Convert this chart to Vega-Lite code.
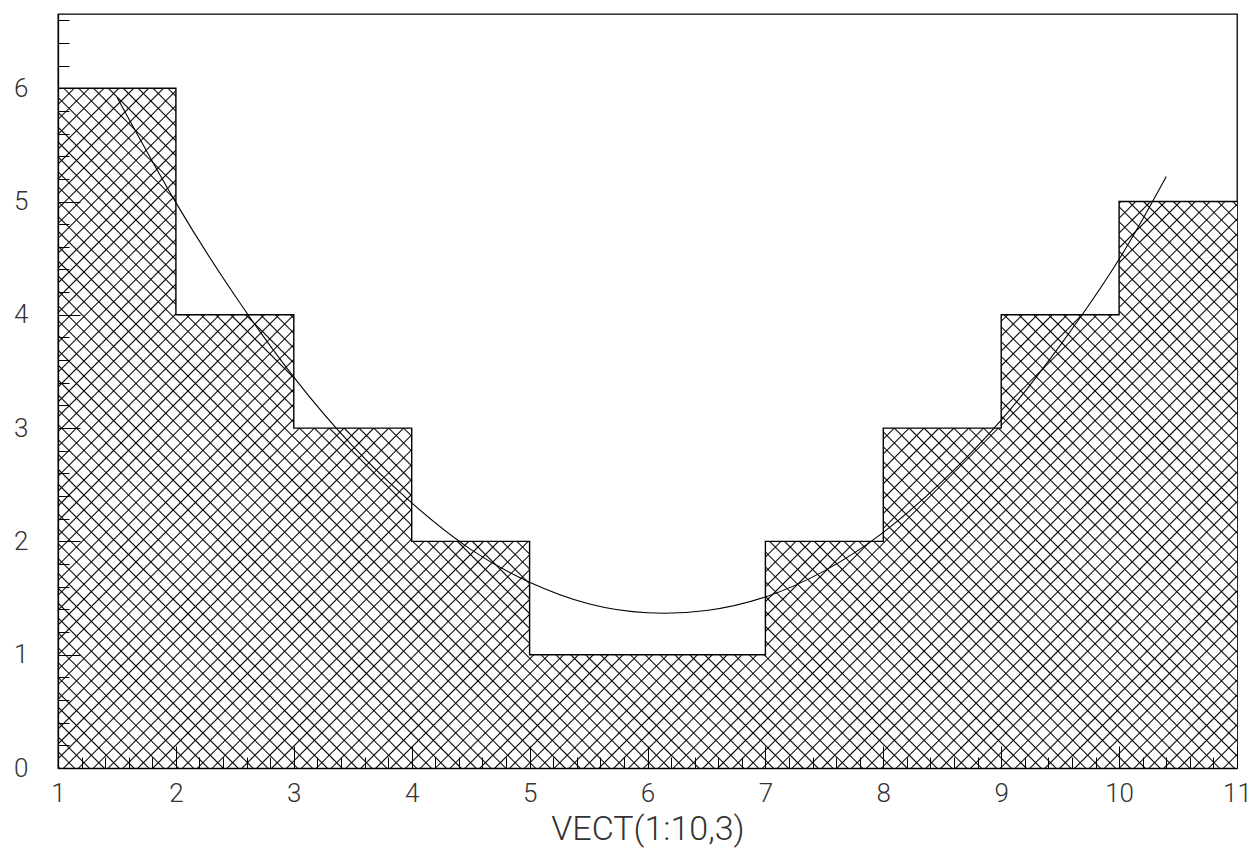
{
 "$schema": "https://vega.github.io/schema/vega-lite/v6.json",
 "width": 1179,
 "height": 754,
 "autosize": "none",
 "padding": {"left": 58, "top": 14, "right": 18, "bottom": 88},
 "background": "#ffffff",
 "config": {
  "view": {"stroke": "#000", "strokeWidth": 1.3},
  "axis": {
   "grid": false,
   "domainColor": "#000",
   "domainWidth": 1.3,
   "tickColor": "#000",
   "tickWidth": 1,
   "labelFont": "Roboto",
   "labelFontWeight": 300,
   "labelFontSize": 26,
   "labelColor": "#333",
   "titleFont": "Roboto",
   "titleFontSize": 34,
   "titleFontWeight": 300,
   "titleColor": "#333",
   "labelOverlap": false,
   "labelFlush": false
  }
 },
 "datasets": {
  "hist": [
   {"lo": 1, "hi": 2, "n": 6},
   {"lo": 2, "hi": 3, "n": 4},
   {"lo": 3, "hi": 4, "n": 3},
   {"lo": 4, "hi": 5, "n": 2},
   {"lo": 5, "hi": 6, "n": 1},
   {"lo": 6, "hi": 7, "n": 1},
   {"lo": 7, "hi": 8, "n": 2},
   {"lo": 8, "hi": 9, "n": 3},
   {"lo": 9, "hi": 10, "n": 4},
   {"lo": 10, "hi": 11, "n": 5}
  ],
  "fit": [
   {"x": 1.5, "y": 5.92},
   {"x": 2, "y": 4.99},
   {"x": 2.5, "y": 4.17},
   {"x": 3, "y": 3.45},
   {"x": 3.5, "y": 2.84},
   {"x": 4, "y": 2.34},
   {"x": 4.5, "y": 1.93},
   {"x": 5, "y": 1.64},
   {"x": 5.5, "y": 1.45},
   {"x": 6, "y": 1.37},
   {"x": 6.5, "y": 1.39},
   {"x": 7, "y": 1.51},
   {"x": 7.5, "y": 1.74},
   {"x": 8, "y": 2.08},
   {"x": 8.5, "y": 2.53},
   {"x": 9, "y": 3.07},
   {"x": 9.5, "y": 3.73},
   {"x": 10, "y": 4.49},
   {"x": 10.4, "y": 5.22}
  ]
 },
 "layer": [
  {
   "data": {"name": "hist"},
   "transform": [{"fold": ["lo", "hi"], "as": ["edge", "x"]}],
   "mark": {
    "type": "area",
    "opacity": 1,
    "fill": {
     "gradient": "linear", "x1": 0, "y1": 0, "x2": 1.1832, "y2": 0.6822,
     "stops": [
{"offset":0,"color":"#fff"},{"offset":0.0008,"color":"#000"},{"offset":0.0016,"color":"#fff"},
{"offset":0.008,"color":"#fff"},{"offset":0.0088,"color":"#000"},{"offset":0.0096,"color":"#fff"},
{"offset":0.016,"color":"#fff"},{"offset":0.0168,"color":"#000"},{"offset":0.0176,"color":"#fff"},
{"offset":0.024,"color":"#fff"},{"offset":0.0248,"color":"#000"},{"offset":0.0256,"color":"#fff"},
{"offset":0.032,"color":"#fff"},{"offset":0.0328,"color":"#000"},{"offset":0.0336,"color":"#fff"},
{"offset":0.04,"color":"#fff"},{"offset":0.0408,"color":"#000"},{"offset":0.0416,"color":"#fff"},
{"offset":0.048,"color":"#fff"},{"offset":0.0488,"color":"#000"},{"offset":0.0496,"color":"#fff"},
{"offset":0.056,"color":"#fff"},{"offset":0.0568,"color":"#000"},{"offset":0.0576,"color":"#fff"},
{"offset":0.064,"color":"#fff"},{"offset":0.0648,"color":"#000"},{"offset":0.0656,"color":"#fff"},
{"offset":0.072,"color":"#fff"},{"offset":0.0728,"color":"#000"},{"offset":0.0736,"color":"#fff"},
{"offset":0.08,"color":"#fff"},{"offset":0.0808,"color":"#000"},{"offset":0.0816,"color":"#fff"},
{"offset":0.088,"color":"#fff"},{"offset":0.0888,"color":"#000"},{"offset":0.0896,"color":"#fff"},
{"offset":0.096,"color":"#fff"},{"offset":0.0968,"color":"#000"},{"offset":0.0976,"color":"#fff"},
{"offset":0.104,"color":"#fff"},{"offset":0.1048,"color":"#000"},{"offset":0.1056,"color":"#fff"},
{"offset":0.112,"color":"#fff"},{"offset":0.1128,"color":"#000"},{"offset":0.1136,"color":"#fff"},
{"offset":0.12,"color":"#fff"},{"offset":0.1208,"color":"#000"},{"offset":0.1216,"color":"#fff"},
{"offset":0.128,"color":"#fff"},{"offset":0.1288,"color":"#000"},{"offset":0.1296,"color":"#fff"},
{"offset":0.136,"color":"#fff"},{"offset":0.1368,"color":"#000"},{"offset":0.1376,"color":"#fff"},
{"offset":0.144,"color":"#fff"},{"offset":0.1448,"color":"#000"},{"offset":0.1456,"color":"#fff"},
{"offset":0.152,"color":"#fff"},{"offset":0.1528,"color":"#000"},{"offset":0.1536,"color":"#fff"},
{"offset":0.16,"color":"#fff"},{"offset":0.1608,"color":"#000"},{"offset":0.1616,"color":"#fff"},
{"offset":0.168,"color":"#fff"},{"offset":0.1688,"color":"#000"},{"offset":0.1696,"color":"#fff"},
{"offset":0.176,"color":"#fff"},{"offset":0.1768,"color":"#000"},{"offset":0.1776,"color":"#fff"},
{"offset":0.184,"color":"#fff"},{"offset":0.1848,"color":"#000"},{"offset":0.1856,"color":"#fff"},
{"offset":0.192,"color":"#fff"},{"offset":0.1928,"color":"#000"},{"offset":0.1936,"color":"#fff"},
{"offset":0.2,"color":"#fff"},{"offset":0.2008,"color":"#000"},{"offset":0.2016,"color":"#fff"},
{"offset":0.208,"color":"#fff"},{"offset":0.2088,"color":"#000"},{"offset":0.2096,"color":"#fff"},
{"offset":0.216,"color":"#fff"},{"offset":0.2168,"color":"#000"},{"offset":0.2176,"color":"#fff"},
{"offset":0.224,"color":"#fff"},{"offset":0.2248,"color":"#000"},{"offset":0.2256,"color":"#fff"},
{"offset":0.232,"color":"#fff"},{"offset":0.2328,"color":"#000"},{"offset":0.2336,"color":"#fff"},
{"offset":0.24,"color":"#fff"},{"offset":0.2408,"color":"#000"},{"offset":0.2416,"color":"#fff"},
{"offset":0.248,"color":"#fff"},{"offset":0.2488,"color":"#000"},{"offset":0.2496,"color":"#fff"},
{"offset":0.256,"color":"#fff"},{"offset":0.2568,"color":"#000"},{"offset":0.2576,"color":"#fff"},
{"offset":0.264,"color":"#fff"},{"offset":0.2648,"color":"#000"},{"offset":0.2656,"color":"#fff"},
{"offset":0.272,"color":"#fff"},{"offset":0.2728,"color":"#000"},{"offset":0.2736,"color":"#fff"},
{"offset":0.28,"color":"#fff"},{"offset":0.2808,"color":"#000"},{"offset":0.2816,"color":"#fff"},
{"offset":0.288,"color":"#fff"},{"offset":0.2888,"color":"#000"},{"offset":0.2896,"color":"#fff"},
{"offset":0.296,"color":"#fff"},{"offset":0.2968,"color":"#000"},{"offset":0.2976,"color":"#fff"},
{"offset":0.304,"color":"#fff"},{"offset":0.3048,"color":"#000"},{"offset":0.3056,"color":"#fff"},
{"offset":0.312,"color":"#fff"},{"offset":0.3128,"color":"#000"},{"offset":0.3136,"color":"#fff"},
{"offset":0.32,"color":"#fff"},{"offset":0.3208,"color":"#000"},{"offset":0.3216,"color":"#fff"},
{"offset":0.328,"color":"#fff"},{"offset":0.3288,"color":"#000"},{"offset":0.3296,"color":"#fff"},
{"offset":0.336,"color":"#fff"},{"offset":0.3368,"color":"#000"},{"offset":0.3376,"color":"#fff"},
{"offset":0.344,"color":"#fff"},{"offset":0.3448,"color":"#000"},{"offset":0.3456,"color":"#fff"},
{"offset":0.352,"color":"#fff"},{"offset":0.3528,"color":"#000"},{"offset":0.3536,"color":"#fff"},
{"offset":0.36,"color":"#fff"},{"offset":0.3608,"color":"#000"},{"offset":0.3616,"color":"#fff"},
{"offset":0.368,"color":"#fff"},{"offset":0.3688,"color":"#000"},{"offset":0.3696,"color":"#fff"},
{"offset":0.376,"color":"#fff"},{"offset":0.3768,"color":"#000"},{"offset":0.3776,"color":"#fff"},
{"offset":0.384,"color":"#fff"},{"offset":0.3848,"color":"#000"},{"offset":0.3856,"color":"#fff"},
{"offset":0.392,"color":"#fff"},{"offset":0.3928,"color":"#000"},{"offset":0.3936,"color":"#fff"},
{"offset":0.4,"color":"#fff"},{"offset":0.4008,"color":"#000"},{"offset":0.4016,"color":"#fff"},
{"offset":0.408,"color":"#fff"},{"offset":0.4088,"color":"#000"},{"offset":0.4096,"color":"#fff"},
{"offset":0.416,"color":"#fff"},{"offset":0.4168,"color":"#000"},{"offset":0.4176,"color":"#fff"},
{"offset":0.424,"color":"#fff"},{"offset":0.4248,"color":"#000"},{"offset":0.4256,"color":"#fff"},
{"offset":0.432,"color":"#fff"},{"offset":0.4328,"color":"#000"},{"offset":0.4336,"color":"#fff"},
{"offset":0.44,"color":"#fff"},{"offset":0.4408,"color":"#000"},{"offset":0.4416,"color":"#fff"},
{"offset":0.448,"color":"#fff"},{"offset":0.4488,"color":"#000"},{"offset":0.4496,"color":"#fff"},
{"offset":0.456,"color":"#fff"},{"offset":0.4568,"color":"#000"},{"offset":0.4576,"color":"#fff"},
{"offset":0.464,"color":"#fff"},{"offset":0.4648,"color":"#000"},{"offset":0.4656,"color":"#fff"},
{"offset":0.472,"color":"#fff"},{"offset":0.4728,"color":"#000"},{"offset":0.4736,"color":"#fff"},
{"offset":0.48,"color":"#fff"},{"offset":0.4808,"color":"#000"},{"offset":0.4816,"color":"#fff"},
{"offset":0.488,"color":"#fff"},{"offset":0.4888,"color":"#000"},{"offset":0.4896,"color":"#fff"},
{"offset":0.496,"color":"#fff"},{"offset":0.4968,"color":"#000"},{"offset":0.4976,"color":"#fff"},
{"offset":0.504,"color":"#fff"},{"offset":0.5048,"color":"#000"},{"offset":0.5056,"color":"#fff"},
{"offset":0.512,"color":"#fff"},{"offset":0.5128,"color":"#000"},{"offset":0.5136,"color":"#fff"},
{"offset":0.52,"color":"#fff"},{"offset":0.5208,"color":"#000"},{"offset":0.5216,"color":"#fff"},
{"offset":0.528,"color":"#fff"},{"offset":0.5288,"color":"#000"},{"offset":0.5296,"color":"#fff"},
{"offset":0.536,"color":"#fff"},{"offset":0.5368,"color":"#000"},{"offset":0.5376,"color":"#fff"},
{"offset":0.544,"color":"#fff"},{"offset":0.5448,"color":"#000"},{"offset":0.5456,"color":"#fff"},
{"offset":0.552,"color":"#fff"},{"offset":0.5528,"color":"#000"},{"offset":0.5536,"color":"#fff"},
{"offset":0.56,"color":"#fff"},{"offset":0.5608,"color":"#000"},{"offset":0.5616,"color":"#fff"},
{"offset":0.568,"color":"#fff"},{"offset":0.5688,"color":"#000"},{"offset":0.5696,"color":"#fff"},
{"offset":0.576,"color":"#fff"},{"offset":0.5768,"color":"#000"},{"offset":0.5776,"color":"#fff"},
{"offset":0.584,"color":"#fff"},{"offset":0.5848,"color":"#000"},{"offset":0.5856,"color":"#fff"},
{"offset":0.592,"color":"#fff"},{"offset":0.5928,"color":"#000"},{"offset":0.5936,"color":"#fff"},
{"offset":0.6,"color":"#fff"},{"offset":0.6008,"color":"#000"},{"offset":0.6016,"color":"#fff"},
{"offset":0.608,"color":"#fff"},{"offset":0.6088,"color":"#000"},{"offset":0.6096,"color":"#fff"},
{"offset":0.616,"color":"#fff"},{"offset":0.6168,"color":"#000"},{"offset":0.6176,"color":"#fff"},
{"offset":0.624,"color":"#fff"},{"offset":0.6248,"color":"#000"},{"offset":0.6256,"color":"#fff"},
{"offset":0.632,"color":"#fff"},{"offset":0.6328,"color":"#000"},{"offset":0.6336,"color":"#fff"},
{"offset":0.64,"color":"#fff"},{"offset":0.6408,"color":"#000"},{"offset":0.6416,"color":"#fff"},
{"offset":0.648,"color":"#fff"},{"offset":0.6488,"color":"#000"},{"offset":0.6496,"color":"#fff"},
{"offset":0.656,"color":"#fff"},{"offset":0.6568,"color":"#000"},{"offset":0.6576,"color":"#fff"},
{"offset":0.664,"color":"#fff"},{"offset":0.6648,"color":"#000"},{"offset":0.6656,"color":"#fff"},
{"offset":0.672,"color":"#fff"},{"offset":0.6728,"color":"#000"},{"offset":0.6736,"color":"#fff"},
{"offset":0.68,"color":"#fff"},{"offset":0.6808,"color":"#000"},{"offset":0.6816,"color":"#fff"},
{"offset":0.688,"color":"#fff"},{"offset":0.6888,"color":"#000"},{"offset":0.6896,"color":"#fff"},
{"offset":0.696,"color":"#fff"},{"offset":0.6968,"color":"#000"},{"offset":0.6976,"color":"#fff"},
{"offset":0.704,"color":"#fff"},{"offset":0.7048,"color":"#000"},{"offset":0.7056,"color":"#fff"},
{"offset":0.712,"color":"#fff"},{"offset":0.7128,"color":"#000"},{"offset":0.7136,"color":"#fff"},
{"offset":0.72,"color":"#fff"},{"offset":0.7208,"color":"#000"},{"offset":0.7216,"color":"#fff"},
{"offset":0.728,"color":"#fff"},{"offset":0.7288,"color":"#000"},{"offset":0.7296,"color":"#fff"},
{"offset":0.736,"color":"#fff"},{"offset":0.7368,"color":"#000"},{"offset":0.7376,"color":"#fff"},
{"offset":0.744,"color":"#fff"},{"offset":0.7448,"color":"#000"},{"offset":0.7456,"color":"#fff"},
{"offset":0.752,"color":"#fff"},{"offset":0.7528,"color":"#000"},{"offset":0.7536,"color":"#fff"},
{"offset":0.76,"color":"#fff"},{"offset":0.7608,"color":"#000"},{"offset":0.7616,"color":"#fff"},
{"offset":0.768,"color":"#fff"},{"offset":0.7688,"color":"#000"},{"offset":0.7696,"color":"#fff"},
{"offset":0.776,"color":"#fff"},{"offset":0.7768,"color":"#000"},{"offset":0.7776,"color":"#fff"},
{"offset":0.784,"color":"#fff"},{"offset":0.7848,"color":"#000"},{"offset":0.7856,"color":"#fff"},
{"offset":0.792,"color":"#fff"},{"offset":0.7928,"color":"#000"},{"offset":0.7936,"color":"#fff"},
{"offset":0.8,"color":"#fff"},{"offset":0.8008,"color":"#000"},{"offset":0.8016,"color":"#fff"},
{"offset":0.808,"color":"#fff"},{"offset":0.8088,"color":"#000"},{"offset":0.8096,"color":"#fff"},
{"offset":0.816,"color":"#fff"},{"offset":0.8168,"color":"#000"},{"offset":0.8176,"color":"#fff"},
{"offset":0.824,"color":"#fff"},{"offset":0.8248,"color":"#000"},{"offset":0.8256,"color":"#fff"},
{"offset":0.832,"color":"#fff"},{"offset":0.8328,"color":"#000"},{"offset":0.8336,"color":"#fff"},
{"offset":0.84,"color":"#fff"},{"offset":0.8408,"color":"#000"},{"offset":0.8416,"color":"#fff"},
{"offset":0.848,"color":"#fff"},{"offset":0.8488,"color":"#000"},{"offset":0.8496,"color":"#fff"},
{"offset":0.856,"color":"#fff"},{"offset":0.8568,"color":"#000"},{"offset":0.8576,"color":"#fff"},
{"offset":0.864,"color":"#fff"},{"offset":0.8648,"color":"#000"},{"offset":0.8656,"color":"#fff"},
{"offset":0.872,"color":"#fff"},{"offset":0.8728,"color":"#000"},{"offset":0.8736,"color":"#fff"},
{"offset":0.88,"color":"#fff"},{"offset":0.8808,"color":"#000"},{"offset":0.8816,"color":"#fff"},
{"offset":0.888,"color":"#fff"},{"offset":0.8888,"color":"#000"},{"offset":0.8896,"color":"#fff"},
{"offset":0.896,"color":"#fff"},{"offset":0.8968,"color":"#000"},{"offset":0.8976,"color":"#fff"},
{"offset":0.904,"color":"#fff"},{"offset":0.9048,"color":"#000"},{"offset":0.9056,"color":"#fff"},
{"offset":0.912,"color":"#fff"},{"offset":0.9128,"color":"#000"},{"offset":0.9136,"color":"#fff"},
{"offset":0.92,"color":"#fff"},{"offset":0.9208,"color":"#000"},{"offset":0.9216,"color":"#fff"},
{"offset":0.928,"color":"#fff"},{"offset":0.9288,"color":"#000"},{"offset":0.9296,"color":"#fff"},
{"offset":0.936,"color":"#fff"},{"offset":0.9368,"color":"#000"},{"offset":0.9376,"color":"#fff"},
{"offset":0.944,"color":"#fff"},{"offset":0.9448,"color":"#000"},{"offset":0.9456,"color":"#fff"},
{"offset":0.952,"color":"#fff"},{"offset":0.9528,"color":"#000"},{"offset":0.9536,"color":"#fff"},
{"offset":0.96,"color":"#fff"},{"offset":0.9608,"color":"#000"},{"offset":0.9616,"color":"#fff"},
{"offset":0.968,"color":"#fff"},{"offset":0.9688,"color":"#000"},{"offset":0.9696,"color":"#fff"},
{"offset":0.976,"color":"#fff"},{"offset":0.9768,"color":"#000"},{"offset":0.9776,"color":"#fff"},
{"offset":0.984,"color":"#fff"},{"offset":0.9848,"color":"#000"},{"offset":0.9856,"color":"#fff"},
{"offset":0.992,"color":"#fff"},{"offset":0.9928,"color":"#000"},{"offset":0.9936,"color":"#fff"}
     ]
    }
   },
   "encoding": {
    "x": {
     "field": "x", "type": "quantitative",
     "scale": {"domain": [1, 11], "nice": false, "zero": false},
     "axis": {
      "values": [1,1.2,1.4,1.6,1.8,2,2.2,2.4,2.6,2.8,3,3.2,3.4,3.6,3.8,4,4.2,4.4,4.6,4.8,5,5.2,5.4,5.6,5.8,6,6.2,6.4,6.6,6.8,7,7.2,7.4,7.6,7.8,8,8.2,8.4,8.6,8.8,9,9.2,9.4,9.6,9.8,10,10.2,10.4,10.6,10.8,11],
      "tickCount": 500,
      "zindex": 2,
      "tickSize": {"condition": {"test": "datum.value == round(datum.value)", "value": -22}, "value": -11},
      "labelExpr": "datum.value == round(datum.value) ? format(datum.value, 'd') : ''",
      "labelOverlap": false,
      "labelPadding": 34,
      "title": "VECT(1:10,3)",
      "titleFont": "Roboto",
      "titleFontWeight": 300,
      "titleFontSize": 34,
      "titlePadding": -5
     }
    },
    "y": {
     "field": "n", "type": "quantitative", "stack": null,
     "scale": {"domain": [0, 6.655], "nice": false},
     "axis": {
      "values": [0,0.2,0.4,0.6,0.8,1,1.2,1.4,1.6,1.8,2,2.2,2.4,2.6,2.8,3,3.2,3.4,3.6,3.8,4,4.2,4.4,4.6,4.8,5,5.2,5.4,5.6,5.8,6,6.2,6.4,6.6],
      "tickCount": 500,
      "zindex": 2,
      "tickSize": {"condition": {"test": "datum.value == round(datum.value)", "value": -22}, "value": -11},
      "labelExpr": "datum.value == round(datum.value) ? format(datum.value, 'd') : ''",
      "labelOverlap": false,
      "labelPadding": 52,
      "title": null
     }
    },
    "order": [{"field": "lo", "type": "quantitative"}, {"field": "x", "type": "quantitative"}]
   }
  },
  {
   "data": {"name": "hist"},
   "transform": [{"fold": ["lo", "hi"], "as": ["edge", "x"]}],
   "mark": {
    "type": "area",
    "opacity": 1,
    "fill": {
     "gradient": "linear", "x1": 0, "y1": 1, "x2": 1.1832, "y2": 0.3178,
     "stops": [
{"offset":0,"color":"transparent"},{"offset":0.0008,"color":"#000"},{"offset":0.0016,"color":"transparent"},
{"offset":0.008,"color":"transparent"},{"offset":0.0088,"color":"#000"},{"offset":0.0096,"color":"transparent"},
{"offset":0.016,"color":"transparent"},{"offset":0.0168,"color":"#000"},{"offset":0.0176,"color":"transparent"},
{"offset":0.024,"color":"transparent"},{"offset":0.0248,"color":"#000"},{"offset":0.0256,"color":"transparent"},
{"offset":0.032,"color":"transparent"},{"offset":0.0328,"color":"#000"},{"offset":0.0336,"color":"transparent"},
{"offset":0.04,"color":"transparent"},{"offset":0.0408,"color":"#000"},{"offset":0.0416,"color":"transparent"},
{"offset":0.048,"color":"transparent"},{"offset":0.0488,"color":"#000"},{"offset":0.0496,"color":"transparent"},
{"offset":0.056,"color":"transparent"},{"offset":0.0568,"color":"#000"},{"offset":0.0576,"color":"transparent"},
{"offset":0.064,"color":"transparent"},{"offset":0.0648,"color":"#000"},{"offset":0.0656,"color":"transparent"},
{"offset":0.072,"color":"transparent"},{"offset":0.0728,"color":"#000"},{"offset":0.0736,"color":"transparent"},
{"offset":0.08,"color":"transparent"},{"offset":0.0808,"color":"#000"},{"offset":0.0816,"color":"transparent"},
{"offset":0.088,"color":"transparent"},{"offset":0.0888,"color":"#000"},{"offset":0.0896,"color":"transparent"},
{"offset":0.096,"color":"transparent"},{"offset":0.0968,"color":"#000"},{"offset":0.0976,"color":"transparent"},
{"offset":0.104,"color":"transparent"},{"offset":0.1048,"color":"#000"},{"offset":0.1056,"color":"transparent"},
{"offset":0.112,"color":"transparent"},{"offset":0.1128,"color":"#000"},{"offset":0.1136,"color":"transparent"},
{"offset":0.12,"color":"transparent"},{"offset":0.1208,"color":"#000"},{"offset":0.1216,"color":"transparent"},
{"offset":0.128,"color":"transparent"},{"offset":0.1288,"color":"#000"},{"offset":0.1296,"color":"transparent"},
{"offset":0.136,"color":"transparent"},{"offset":0.1368,"color":"#000"},{"offset":0.1376,"color":"transparent"},
{"offset":0.144,"color":"transparent"},{"offset":0.1448,"color":"#000"},{"offset":0.1456,"color":"transparent"},
{"offset":0.152,"color":"transparent"},{"offset":0.1528,"color":"#000"},{"offset":0.1536,"color":"transparent"},
{"offset":0.16,"color":"transparent"},{"offset":0.1608,"color":"#000"},{"offset":0.1616,"color":"transparent"},
{"offset":0.168,"color":"transparent"},{"offset":0.1688,"color":"#000"},{"offset":0.1696,"color":"transparent"},
{"offset":0.176,"color":"transparent"},{"offset":0.1768,"color":"#000"},{"offset":0.1776,"color":"transparent"},
{"offset":0.184,"color":"transparent"},{"offset":0.1848,"color":"#000"},{"offset":0.1856,"color":"transparent"},
{"offset":0.192,"color":"transparent"},{"offset":0.1928,"color":"#000"},{"offset":0.1936,"color":"transparent"},
{"offset":0.2,"color":"transparent"},{"offset":0.2008,"color":"#000"},{"offset":0.2016,"color":"transparent"},
{"offset":0.208,"color":"transparent"},{"offset":0.2088,"color":"#000"},{"offset":0.2096,"color":"transparent"},
{"offset":0.216,"color":"transparent"},{"offset":0.2168,"color":"#000"},{"offset":0.2176,"color":"transparent"},
{"offset":0.224,"color":"transparent"},{"offset":0.2248,"color":"#000"},{"offset":0.2256,"color":"transparent"},
{"offset":0.232,"color":"transparent"},{"offset":0.2328,"color":"#000"},{"offset":0.2336,"color":"transparent"},
{"offset":0.24,"color":"transparent"},{"offset":0.2408,"color":"#000"},{"offset":0.2416,"color":"transparent"},
{"offset":0.248,"color":"transparent"},{"offset":0.2488,"color":"#000"},{"offset":0.2496,"color":"transparent"},
{"offset":0.256,"color":"transparent"},{"offset":0.2568,"color":"#000"},{"offset":0.2576,"color":"transparent"},
{"offset":0.264,"color":"transparent"},{"offset":0.2648,"color":"#000"},{"offset":0.2656,"color":"transparent"},
{"offset":0.272,"color":"transparent"},{"offset":0.2728,"color":"#000"},{"offset":0.2736,"color":"transparent"},
{"offset":0.28,"color":"transparent"},{"offset":0.2808,"color":"#000"},{"offset":0.2816,"color":"transparent"},
{"offset":0.288,"color":"transparent"},{"offset":0.2888,"color":"#000"},{"offset":0.2896,"color":"transparent"},
{"offset":0.296,"color":"transparent"},{"offset":0.2968,"color":"#000"},{"offset":0.2976,"color":"transparent"},
{"offset":0.304,"color":"transparent"},{"offset":0.3048,"color":"#000"},{"offset":0.3056,"color":"transparent"},
{"offset":0.312,"color":"transparent"},{"offset":0.3128,"color":"#000"},{"offset":0.3136,"color":"transparent"},
{"offset":0.32,"color":"transparent"},{"offset":0.3208,"color":"#000"},{"offset":0.3216,"color":"transparent"},
{"offset":0.328,"color":"transparent"},{"offset":0.3288,"color":"#000"},{"offset":0.3296,"color":"transparent"},
{"offset":0.336,"color":"transparent"},{"offset":0.3368,"color":"#000"},{"offset":0.3376,"color":"transparent"},
{"offset":0.344,"color":"transparent"},{"offset":0.3448,"color":"#000"},{"offset":0.3456,"color":"transparent"},
{"offset":0.352,"color":"transparent"},{"offset":0.3528,"color":"#000"},{"offset":0.3536,"color":"transparent"},
{"offset":0.36,"color":"transparent"},{"offset":0.3608,"color":"#000"},{"offset":0.3616,"color":"transparent"},
{"offset":0.368,"color":"transparent"},{"offset":0.3688,"color":"#000"},{"offset":0.3696,"color":"transparent"},
{"offset":0.376,"color":"transparent"},{"offset":0.3768,"color":"#000"},{"offset":0.3776,"color":"transparent"},
{"offset":0.384,"color":"transparent"},{"offset":0.3848,"color":"#000"},{"offset":0.3856,"color":"transparent"},
{"offset":0.392,"color":"transparent"},{"offset":0.3928,"color":"#000"},{"offset":0.3936,"color":"transparent"},
{"offset":0.4,"color":"transparent"},{"offset":0.4008,"color":"#000"},{"offset":0.4016,"color":"transparent"},
{"offset":0.408,"color":"transparent"},{"offset":0.4088,"color":"#000"},{"offset":0.4096,"color":"transparent"},
{"offset":0.416,"color":"transparent"},{"offset":0.4168,"color":"#000"},{"offset":0.4176,"color":"transparent"},
{"offset":0.424,"color":"transparent"},{"offset":0.4248,"color":"#000"},{"offset":0.4256,"color":"transparent"},
{"offset":0.432,"color":"transparent"},{"offset":0.4328,"color":"#000"},{"offset":0.4336,"color":"transparent"},
{"offset":0.44,"color":"transparent"},{"offset":0.4408,"color":"#000"},{"offset":0.4416,"color":"transparent"},
{"offset":0.448,"color":"transparent"},{"offset":0.4488,"color":"#000"},{"offset":0.4496,"color":"transparent"},
{"offset":0.456,"color":"transparent"},{"offset":0.4568,"color":"#000"},{"offset":0.4576,"color":"transparent"},
{"offset":0.464,"color":"transparent"},{"offset":0.4648,"color":"#000"},{"offset":0.4656,"color":"transparent"},
{"offset":0.472,"color":"transparent"},{"offset":0.4728,"color":"#000"},{"offset":0.4736,"color":"transparent"},
{"offset":0.48,"color":"transparent"},{"offset":0.4808,"color":"#000"},{"offset":0.4816,"color":"transparent"},
{"offset":0.488,"color":"transparent"},{"offset":0.4888,"color":"#000"},{"offset":0.4896,"color":"transparent"},
{"offset":0.496,"color":"transparent"},{"offset":0.4968,"color":"#000"},{"offset":0.4976,"color":"transparent"},
{"offset":0.504,"color":"transparent"},{"offset":0.5048,"color":"#000"},{"offset":0.5056,"color":"transparent"},
{"offset":0.512,"color":"transparent"},{"offset":0.5128,"color":"#000"},{"offset":0.5136,"color":"transparent"},
{"offset":0.52,"color":"transparent"},{"offset":0.5208,"color":"#000"},{"offset":0.5216,"color":"transparent"},
{"offset":0.528,"color":"transparent"},{"offset":0.5288,"color":"#000"},{"offset":0.5296,"color":"transparent"},
{"offset":0.536,"color":"transparent"},{"offset":0.5368,"color":"#000"},{"offset":0.5376,"color":"transparent"},
{"offset":0.544,"color":"transparent"},{"offset":0.5448,"color":"#000"},{"offset":0.5456,"color":"transparent"},
{"offset":0.552,"color":"transparent"},{"offset":0.5528,"color":"#000"},{"offset":0.5536,"color":"transparent"},
{"offset":0.56,"color":"transparent"},{"offset":0.5608,"color":"#000"},{"offset":0.5616,"color":"transparent"},
{"offset":0.568,"color":"transparent"},{"offset":0.5688,"color":"#000"},{"offset":0.5696,"color":"transparent"},
{"offset":0.576,"color":"transparent"},{"offset":0.5768,"color":"#000"},{"offset":0.5776,"color":"transparent"},
{"offset":0.584,"color":"transparent"},{"offset":0.5848,"color":"#000"},{"offset":0.5856,"color":"transparent"},
{"offset":0.592,"color":"transparent"},{"offset":0.5928,"color":"#000"},{"offset":0.5936,"color":"transparent"},
{"offset":0.6,"color":"transparent"},{"offset":0.6008,"color":"#000"},{"offset":0.6016,"color":"transparent"},
{"offset":0.608,"color":"transparent"},{"offset":0.6088,"color":"#000"},{"offset":0.6096,"color":"transparent"},
{"offset":0.616,"color":"transparent"},{"offset":0.6168,"color":"#000"},{"offset":0.6176,"color":"transparent"},
{"offset":0.624,"color":"transparent"},{"offset":0.6248,"color":"#000"},{"offset":0.6256,"color":"transparent"},
{"offset":0.632,"color":"transparent"},{"offset":0.6328,"color":"#000"},{"offset":0.6336,"color":"transparent"},
{"offset":0.64,"color":"transparent"},{"offset":0.6408,"color":"#000"},{"offset":0.6416,"color":"transparent"},
{"offset":0.648,"color":"transparent"},{"offset":0.6488,"color":"#000"},{"offset":0.6496,"color":"transparent"},
{"offset":0.656,"color":"transparent"},{"offset":0.6568,"color":"#000"},{"offset":0.6576,"color":"transparent"},
{"offset":0.664,"color":"transparent"},{"offset":0.6648,"color":"#000"},{"offset":0.6656,"color":"transparent"},
{"offset":0.672,"color":"transparent"},{"offset":0.6728,"color":"#000"},{"offset":0.6736,"color":"transparent"},
{"offset":0.68,"color":"transparent"},{"offset":0.6808,"color":"#000"},{"offset":0.6816,"color":"transparent"},
{"offset":0.688,"color":"transparent"},{"offset":0.6888,"color":"#000"},{"offset":0.6896,"color":"transparent"},
{"offset":0.696,"color":"transparent"},{"offset":0.6968,"color":"#000"},{"offset":0.6976,"color":"transparent"},
{"offset":0.704,"color":"transparent"},{"offset":0.7048,"color":"#000"},{"offset":0.7056,"color":"transparent"},
{"offset":0.712,"color":"transparent"},{"offset":0.7128,"color":"#000"},{"offset":0.7136,"color":"transparent"},
{"offset":0.72,"color":"transparent"},{"offset":0.7208,"color":"#000"},{"offset":0.7216,"color":"transparent"},
{"offset":0.728,"color":"transparent"},{"offset":0.7288,"color":"#000"},{"offset":0.7296,"color":"transparent"},
{"offset":0.736,"color":"transparent"},{"offset":0.7368,"color":"#000"},{"offset":0.7376,"color":"transparent"},
{"offset":0.744,"color":"transparent"},{"offset":0.7448,"color":"#000"},{"offset":0.7456,"color":"transparent"},
{"offset":0.752,"color":"transparent"},{"offset":0.7528,"color":"#000"},{"offset":0.7536,"color":"transparent"},
{"offset":0.76,"color":"transparent"},{"offset":0.7608,"color":"#000"},{"offset":0.7616,"color":"transparent"},
{"offset":0.768,"color":"transparent"},{"offset":0.7688,"color":"#000"},{"offset":0.7696,"color":"transparent"},
{"offset":0.776,"color":"transparent"},{"offset":0.7768,"color":"#000"},{"offset":0.7776,"color":"transparent"},
{"offset":0.784,"color":"transparent"},{"offset":0.7848,"color":"#000"},{"offset":0.7856,"color":"transparent"},
{"offset":0.792,"color":"transparent"},{"offset":0.7928,"color":"#000"},{"offset":0.7936,"color":"transparent"},
{"offset":0.8,"color":"transparent"},{"offset":0.8008,"color":"#000"},{"offset":0.8016,"color":"transparent"},
{"offset":0.808,"color":"transparent"},{"offset":0.8088,"color":"#000"},{"offset":0.8096,"color":"transparent"},
{"offset":0.816,"color":"transparent"},{"offset":0.8168,"color":"#000"},{"offset":0.8176,"color":"transparent"},
{"offset":0.824,"color":"transparent"},{"offset":0.8248,"color":"#000"},{"offset":0.8256,"color":"transparent"},
{"offset":0.832,"color":"transparent"},{"offset":0.8328,"color":"#000"},{"offset":0.8336,"color":"transparent"},
{"offset":0.84,"color":"transparent"},{"offset":0.8408,"color":"#000"},{"offset":0.8416,"color":"transparent"},
{"offset":0.848,"color":"transparent"},{"offset":0.8488,"color":"#000"},{"offset":0.8496,"color":"transparent"},
{"offset":0.856,"color":"transparent"},{"offset":0.8568,"color":"#000"},{"offset":0.8576,"color":"transparent"},
{"offset":0.864,"color":"transparent"},{"offset":0.8648,"color":"#000"},{"offset":0.8656,"color":"transparent"},
{"offset":0.872,"color":"transparent"},{"offset":0.8728,"color":"#000"},{"offset":0.8736,"color":"transparent"},
{"offset":0.88,"color":"transparent"},{"offset":0.8808,"color":"#000"},{"offset":0.8816,"color":"transparent"},
{"offset":0.888,"color":"transparent"},{"offset":0.8888,"color":"#000"},{"offset":0.8896,"color":"transparent"},
{"offset":0.896,"color":"transparent"},{"offset":0.8968,"color":"#000"},{"offset":0.8976,"color":"transparent"},
{"offset":0.904,"color":"transparent"},{"offset":0.9048,"color":"#000"},{"offset":0.9056,"color":"transparent"},
{"offset":0.912,"color":"transparent"},{"offset":0.9128,"color":"#000"},{"offset":0.9136,"color":"transparent"},
{"offset":0.92,"color":"transparent"},{"offset":0.9208,"color":"#000"},{"offset":0.9216,"color":"transparent"},
{"offset":0.928,"color":"transparent"},{"offset":0.9288,"color":"#000"},{"offset":0.9296,"color":"transparent"},
{"offset":0.936,"color":"transparent"},{"offset":0.9368,"color":"#000"},{"offset":0.9376,"color":"transparent"},
{"offset":0.944,"color":"transparent"},{"offset":0.9448,"color":"#000"},{"offset":0.9456,"color":"transparent"},
{"offset":0.952,"color":"transparent"},{"offset":0.9528,"color":"#000"},{"offset":0.9536,"color":"transparent"},
{"offset":0.96,"color":"transparent"},{"offset":0.9608,"color":"#000"},{"offset":0.9616,"color":"transparent"},
{"offset":0.968,"color":"transparent"},{"offset":0.9688,"color":"#000"},{"offset":0.9696,"color":"transparent"},
{"offset":0.976,"color":"transparent"},{"offset":0.9768,"color":"#000"},{"offset":0.9776,"color":"transparent"},
{"offset":0.984,"color":"transparent"},{"offset":0.9848,"color":"#000"},{"offset":0.9856,"color":"transparent"},
{"offset":0.992,"color":"transparent"},{"offset":0.9928,"color":"#000"},{"offset":0.9936,"color":"transparent"}
     ]
    }
   },
   "encoding": {
    "x": {"field": "x", "type": "quantitative", "scale": {"domain": [1, 11], "nice": false, "zero": false}},
    "y": {"field": "n", "type": "quantitative", "stack": null, "scale": {"domain": [0, 6.655], "nice": false}},
    "order": [{"field": "lo", "type": "quantitative"}, {"field": "x", "type": "quantitative"}]
   }
  },
  {
   "data": {"name": "hist"},
   "transform": [{"fold": ["lo", "hi"], "as": ["edge", "x"]}],
   "mark": {"type": "line", "stroke": "#000", "strokeWidth": 1.4},
   "encoding": {
    "x": {"field": "x", "type": "quantitative", "scale": {"domain": [1, 11], "nice": false, "zero": false}},
    "y": {"field": "n", "type": "quantitative", "stack": null, "scale": {"domain": [0, 6.655], "nice": false}},
    "order": [{"field": "lo", "type": "quantitative"}, {"field": "x", "type": "quantitative"}]
   }
  },
  {
   "data": {"name": "fit"},
   "mark": {"type": "line", "interpolate": "natural", "stroke": "#000", "strokeWidth": 1.1},
   "encoding": {
    "x": {"field": "x", "type": "quantitative", "scale": {"domain": [1, 11], "nice": false, "zero": false}},
    "y": {"field": "y", "type": "quantitative", "scale": {"domain": [0, 6.655], "nice": false}}
   }
  }
 ]
}
